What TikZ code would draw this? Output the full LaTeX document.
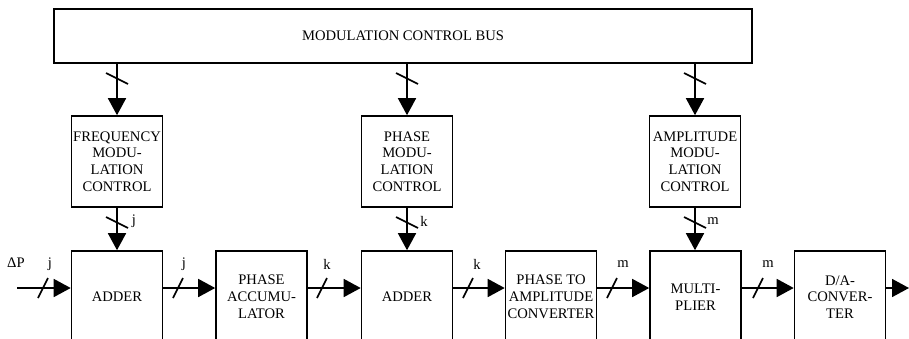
\documentclass[tikz,border=0pt]{standalone}
\usepackage{fontspec}
\setmainfont{Liberation Serif}
\usetikzlibrary{arrows.meta,calc}
\begin{document}
\begin{tikzpicture}[x=1pt,y=-1pt,
  blk/.style={draw,line width=1.6pt,minimum width=91pt,minimum height=92pt,inner sep=0pt,align=center,font=\fontsize{14.6}{16.8}\selectfont},
  sig/.style={line width=1.6pt,-{Triangle[length=17pt,width=18pt]}},
  tickmark/.style={line width=1.6pt},
  lbl/.style={font=\fontsize{14.6}{16}\selectfont,inner sep=0pt}]
\useasboundingbox (0,0) rectangle (909,338);
\clip (0,0) rectangle (909,338);
% blocks
\node[blk,minimum width=698pt,minimum height=54pt] (bus) at (403,36) {MODULATION CONTROL BUS};
\node[blk,minimum height=91pt] (fmc) at (117,161.5) {FREQUENCY\\MODU-\\LATION\\CONTROL};
\node[blk,minimum height=91pt] (pmc) at (407,161.5) {PHASE\\MODU-\\LATION\\CONTROL};
\node[blk,minimum height=91pt] (amc) at (695,161.5) {AMPLITUDE\\MODU-\\LATION\\CONTROL};
\node[blk] (add1) at (117,297) {ADDER};
\node[blk] (acc) at (261.5,297) {PHASE\\ACCUMU-\\LATOR};
\node[blk] (add2) at (407,297) {ADDER};
\node[blk] (p2a) at (551,297) {PHASE TO\\AMPLITUDE\\CONVERTER};
\node[blk] (mul) at (695.5,297) {MULTI-\\PLIER};
\node[blk] (dac) at (840,297) {D/A-\\CONVER-\\TER};
% signal line level
\coordinate (ly) at (0,288);
\coordinate (inp) at (17,288);
\coordinate (outp) at (909,288);
% horizontal connectors
\draw[sig] (inp) -- (add1.west |- ly);
\draw[sig] (add1.east |- ly) -- (acc.west |- ly);
\draw[sig] (acc.east |- ly) -- (add2.west |- ly);
\draw[sig] (add2.east |- ly) -- (p2a.west |- ly);
\draw[sig] (p2a.east |- ly) -- (mul.west |- ly);
\draw[sig] (mul.east |- ly) -- (dac.west |- ly);
\draw[sig] (dac.east |- ly) -- (outp);
% vertical connectors
\draw[sig] (bus.south -| fmc) -- (fmc.north);
\draw[sig] (bus.south -| pmc) -- (pmc.north);
\draw[sig] (bus.south -| amc) -- (amc.north);
\draw[sig] (fmc.south) -- (add1.north -| fmc);
\draw[sig] (pmc.south) -- (add2.north -| pmc);
\draw[sig] (amc.south) -- (mul.north -| amc);
% bus width slashes on horizontal lines
\foreach \x in {43,178,322,468,612,758}
  \draw[tickmark] (\x-5,298) -- (\x+5,278);
% bus width slashes on vertical lines
\foreach \x in {117,407,695}{
  \draw[tickmark] (\x-11,73) -- (\x+11,84);
  \draw[tickmark] (\x-11,217) -- (\x+11,228);
}
% labels
\node[lbl] (dp) at (16,263) {ΔP};
\node[lbl] (l1) at (50,264) {j};
\node[lbl] (l2) at (184,264) {j};
\node[lbl] (l3) at (327,264) {k};
\node[lbl] (l4) at (477,264) {k};
\node[lbl] (l5) at (623,264) {m};
\node[lbl] (l6) at (768,264) {m};
\node[lbl] (v1) at (134,221) {j};
\node[lbl] (v2) at (424,221) {k};
\node[lbl] (v3) at (713,221) {m};
\end{tikzpicture}
\end{document}
